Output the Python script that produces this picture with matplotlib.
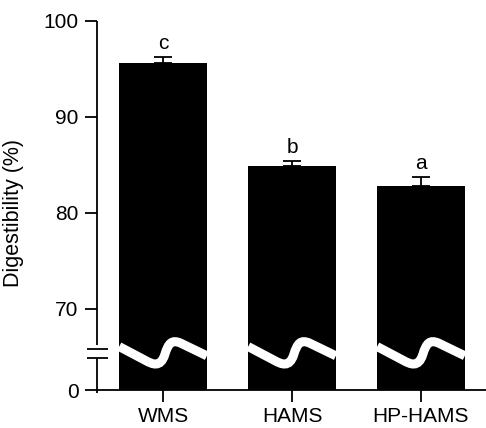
import numpy as np
import matplotlib
matplotlib.use("Agg")
import matplotlib.pyplot as plt
from matplotlib.path import Path
from matplotlib.patches import PathPatch

plt.rcParams['font.family'] = ['Liberation Sans', 'DejaVu Sans']

# data
samples = ["WMS", "HAMS", "HP-HAMS"]
digestibility = [95.6, 84.9, 82.8]
sem = [0.6, 0.5, 0.95]
letters = ["c", "b", "a"]

# broken y axis: 0..70 squeezed into a short segment
k = 8.44 / 70.0

def fwd(v):
    v = np.asarray(v, dtype=float)
    return np.where(v >= 70, v, 70 - (70 - v) * k)

def inv(p):
    p = np.asarray(p, dtype=float)
    return np.where(p >= 70, p, 70 - (70 - p) / k)

fig = plt.figure(figsize=(4.86, 4.28), dpi=100)
ax = fig.add_axes([97 / 486, 38 / 428, 1 - 97 / 486, (390 - 20.7) / 428])
ax.set_yscale("function", functions=(fwd, inv))

x = np.arange(len(samples))
w = 0.68
ax.bar(x, digestibility, width=w, color="black", linewidth=0, zorder=2)
ax.errorbar(x, digestibility, yerr=[[0] * len(x), sem], fmt="none",
            ecolor="black", elinewidth=1.3, capsize=6.5, capthick=1.3, zorder=3)
for xi, v, e, lab in zip(x, digestibility, sem, letters):
    ax.annotate(lab, (xi, v + e), xytext=(0, 3), textcoords="offset points",
                ha="center", va="bottom", fontsize=15)

# white wavy break line across each bar
codes = [Path.MOVETO, Path.LINETO, Path.CURVE4, Path.CURVE4, Path.CURVE4,
         Path.CURVE4, Path.CURVE4, Path.CURVE4, Path.LINETO]
wave_f = [0.0, 0.30, 0.38, 0.47, 0.52, 0.56, 0.60, 0.70, 1.0]
wave_v = [37.5, 25.5, 22.2, 19.0, 30.5, 40.5, 43.8, 40.5, 29.5]
for xi in x:
    verts = [(xi - w / 2 + f * w, v) for f, v in zip(wave_f, wave_v)]
    ax.add_patch(PathPatch(Path(verts, codes), facecolor="none", edgecolor="white",
                           linewidth=6.5, capstyle="butt", zorder=2.5))

ax.set_xlim(-0.512, 2.504)
ax.set_ylim(0, 100)
ax.set_yticks([0, 70, 80, 90, 100])
ax.set_xticks(x)
ax.set_xticklabels(samples)
ax.set_ylabel("Digestibility (%)", fontsize=15.5)
ax.yaxis.set_label_coords(-0.188, 0.479)

for s in ["top", "right", "left"]:
    ax.spines[s].set_visible(False)
ax.spines["bottom"].set_linewidth(1.3)
ax.tick_params(axis="both", labelsize=15, width=1.3, length=8.3, direction="out")
ax.tick_params(axis="y", pad=5)
ax.tick_params(axis="x", pad=4)

# left axis line with break marks
yt = ax.get_yaxis_transform()
lo_mark, hi_mark = 27.7, 35.4
ax.plot([0, 0], [-2.5, lo_mark], color="black", lw=1.3, transform=yt,
        clip_on=False, solid_capstyle="butt")
ax.plot([0, 0], [38.9, 100], color="black", lw=1.3, transform=yt,
        clip_on=False, solid_capstyle="butt")
for m in (lo_mark, hi_mark):
    ax.plot([-0.026, 0.027], [m, m], color="black", lw=1.3, transform=yt,
            clip_on=False, solid_capstyle="butt")

fig.savefig("out.png", dpi=100)
